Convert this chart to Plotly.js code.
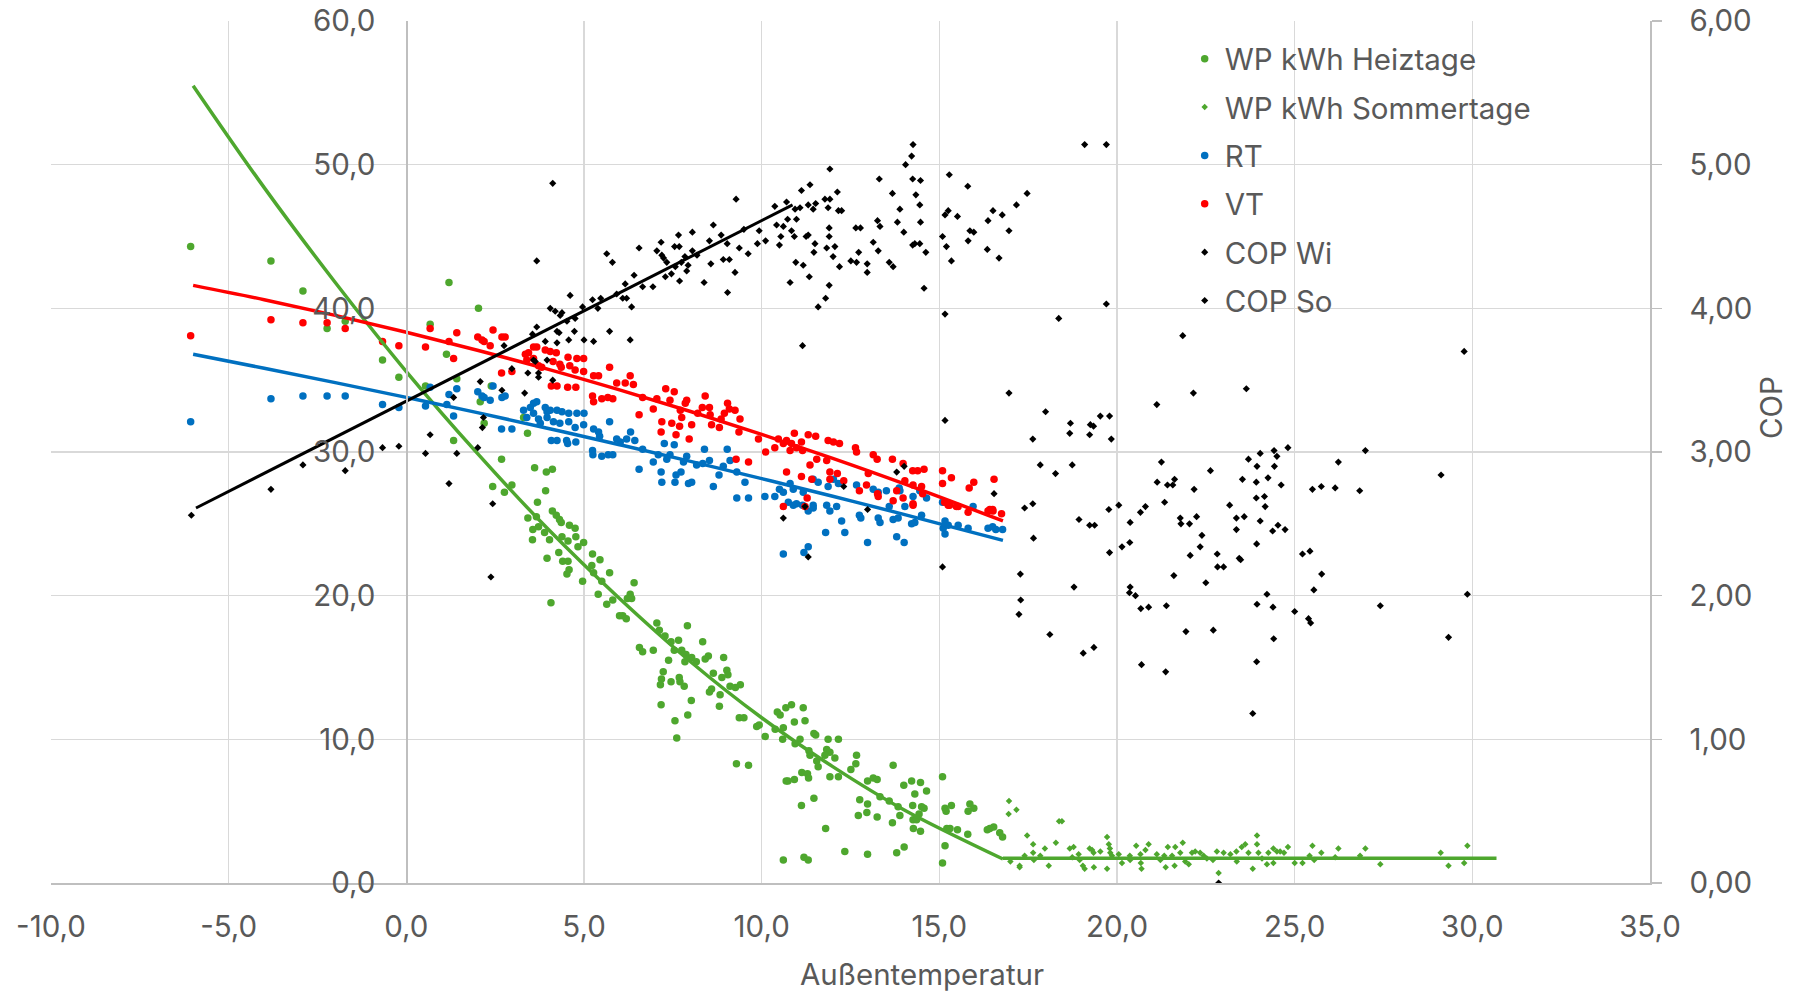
<!DOCTYPE html>
<html><head><meta charset="utf-8">
<script src="https://cdn.plot.ly/plotly-3.0.1.min.js"></script>
<style>html,body{margin:0;padding:0;background:#fff}#chart{width:1807px;height:995px}</style>
</head><body><div id="chart"></div>
<script>
// ---- Data ----
const heizX = [-6.07,-3.81,-2.91,-2.23,-1.72,-0.67,-0.21,0.67,1.20,1.13,0.54,1.42,2.03,2.08,2.19,2.39,1.33,3.41,3.30,2.68,2.43,2.76,2.97,3.61,3.94,4.11,3.92,3.69,4.11,
3.42,3.66,3.56,3.72,3.89,3.55,4.03,4.22,4.31,4.36,4.59,4.75,4.38,4.55,4.77,4.99,4.83,4.29,4.40,4.55,3.96,4.58,4.52,5.24,5.45,5.22,5.27,4.96,5.50,5.72,5.40,5.64,5.81,4.07,6.00,
6.41,6.30,6.22,6.34,6.09,6.19,7.05,7.12,7.28,7.91,7.45,7.66,7.54,7.75,6.56,6.65,6.95,8.34,8.50,8.41,7.87,8.03,8.16,7.84,7.38,8.93,7.23,7.18,7.15,7.45,7.68,7.70,7.82,8.64,9.02,9.05,8.88,9.11,9.40,9.26,8.53,8.59,8.83,8.02,7.17,8.81,7.92,7.56,7.61,
9.37,9.50,9.86,9.93,10.10,10.44,10.52,10.68,10.84,11.17,11.22,10.92,10.38,10.61,10.59,10.94,11.08,11.47,11.52,11.33,11.36,11.55,11.59,11.87,12.16,11.83,11.92,11.78,12.06,12.67,12.65,12.51,11.92,12.16,11.13,11.29,11.32,10.92,10.74,10.69,9.29,9.63,11.12,11.47,11.80,10.61,11.19,11.31,12.34,12.98,
13.70,12.98,13.14,13.25,13.33,12.76,12.98,13.59,12.72,12.96,13.25,13.68,13.84,14.00,14.22,14.47,14.64,14.31,14.25,14.50,14.57,14.43,13.89,14.26,14.36,14.27,14.47,13.80,14.01,15.09,15.16,15.19,15.34,15.86,15.97,15.81,15.21,15.30,15.51,15.80,15.16,15.09,16.35,16.42,16.53,16.70,16.78];
const heizY = [44.3,43.3,41.2,38.6,39.1,36.4,35.2,38.9,41.8,36.8,34.6,35.1,40.0,33.5,32.0,34.6,30.8,31.3,32.4,29.5,27.6,27.2,27.7,28.9,28.6,28.8,27.3,26.5,25.9,
25.4,25.5,24.6,24.8,24.4,23.9,23.9,25.6,25.3,25.1,24.9,24.7,24.1,23.8,24.1,23.7,23.4,23.0,22.4,22.4,22.6,21.8,21.5,22.9,22.5,22.1,21.6,21.0,21.0,21.6,20.1,19.4,19.7,19.5,18.6,
20.9,20.1,19.8,19.8,18.6,18.4,18.1,17.6,17.2,17.9,16.8,16.9,16.2,16.2,16.4,16.1,16.2,16.8,15.8,15.6,15.9,15.7,15.4,15.4,15.5,15.7,14.7,14.2,13.8,14.0,14.3,14.0,13.7,14.6,14.8,14.5,14.3,13.7,13.8,13.6,13.3,13.5,13.1,12.7,12.4,12.3,11.7,11.3,10.1,
11.5,11.5,10.9,11.0,10.2,11.9,11.7,12.2,12.4,12.2,11.3,11.2,10.7,10.8,10.0,9.7,10.0,10.4,10.3,9.2,8.9,8.5,8.1,10.0,10.0,9.3,9.1,8.9,8.7,8.9,8.3,7.9,7.4,7.4,7.7,7.6,7.3,7.2,7.1,7.1,8.3,8.2,5.4,5.9,3.8,1.6,1.8,1.6,2.2,2.0,
8.2,7.1,7.3,7.2,6.0,5.8,5.5,5.7,4.7,4.9,4.6,4.2,5.3,6.8,7.1,7.0,6.4,6.2,5.4,5.3,5.2,4.8,4.7,4.4,4.4,3.8,3.6,2.1,2.5,7.4,5.2,5.0,5.4,5.5,5.2,5.0,3.8,3.8,3.7,3.4,2.6,1.4,3.7,3.8,3.9,3.5,3.2];

const sommerX = [16.96,17.17,16.95,17.47,17.64,17.97,18.28,18.37,17.00,17.26,17.26,17.40,17.64,17.66,17.84,18.08,
18.45,18.67,18.78,18.74,18.92,18.95,19.04,19.09,19.23,19.30,19.34,19.35,19.53,19.72,19.77,19.80,19.81,19.72,19.86,20.05,20.14,20.36,20.37,20.54,20.66,20.67,20.69,20.80,20.89,21.12,21.22,21.33,21.37,21.43,21.55,21.62,21.64,21.78,21.85,21.92,22.02,22.11,22.20,22.34,22.44,22.53,22.70,22.81,22.86,23.00,23.19,23.36,23.37,23.51,23.61,23.70,23.82,23.94,23.94,23.98,24.08,24.22,24.26,24.40,24.40,24.50,24.59,24.70,24.81,25.00,25.22,25.42,25.50,25.55,25.75,26.14,26.23,26.84,26.99,27.41,29.11,29.33,29.77,29.86];
const sommerY = [5.7,5.1,4.8,3.3,2.7,2.4,2.8,4.3,1.5,1.2,1.1,1.9,2.1,1.6,1.9,1.2,
4.3,2.4,2.5,1.8,2.0,1.6,1.2,1.0,2.4,2.3,2.1,1.1,2.2,3.2,2.7,2.4,2.1,1.0,1.9,2.0,1.4,1.9,1.6,2.6,2.0,1.4,1.0,2.3,2.7,2.0,1.6,1.9,1.1,2.5,1.9,1.2,2.5,2.1,2.8,1.5,1.3,2.1,2.2,2.1,1.9,1.7,1.6,2.2,0.7,2.1,2.0,2.2,1.5,2.5,2.7,2.1,1.0,3.3,2.7,2.1,1.7,1.3,2.1,2.4,1.4,2.2,2.2,2.1,2.5,1.4,1.4,1.9,2.6,1.6,2.1,1.8,2.4,1.9,2.4,1.3,2.1,1.2,1.4,2.6];

const rtX = [-6.07,-3.81,-2.91,-2.23,-1.72,-0.67,-0.21,0.54,0.67,1.20,1.14,1.33,1.42,2.01,2.13,2.19,2.36,2.44,2.69,2.78,2.68,2.97,3.30,3.39,3.49,3.58,3.67,3.58,3.72,3.77,3.91,3.96,4.05,4.24,4.38,4.57,4.80,5.00,3.96,4.14,4.32,4.57,4.75,4.99,4.08,4.24,4.51,4.54,4.77,5.27,5.41,5.44,5.72,5.92,5.24,5.25,5.50,5.68,5.81,
6.02,6.20,6.31,6.43,6.55,6.65,6.95,7.09,7.17,7.19,7.26,7.33,7.42,7.54,7.56,7.59,7.73,7.80,7.89,7.94,8.03,8.17,8.34,8.39,8.53,8.64,8.80,8.92,9.03,9.11,9.30,9.53,9.30,9.63,10.09,10.37,10.50,10.61,10.80,10.89,11.17,11.45,11.59,11.87,12.02,12.16,12.67,13.14,13.28,13.51,13.89,13.87,14.26,14.45,14.64,15.09,15.95,10.98,11.45,11.83,12.11,13.59,14.03,
10.75,10.89,11.15,11.31,11.45,11.92,12.25,12.75,12.79,13.28,13.33,13.70,13.84,14.22,14.31,14.50,15.16,15.11,15.25,15.16,15.53,15.81,16.37,16.50,16.59,16.78,11.80,12.34,12.98,13.80,14.01,10.61,11.19,11.31];
const rtY = [32.1,33.7,33.9,33.9,33.9,33.3,33.1,33.2,34.5,34.0,33.3,32.5,34.4,34.2,33.9,33.8,33.6,34.6,33.8,33.9,31.6,31.6,32.9,32.4,33.1,33.4,33.5,32.7,32.3,32.0,33.1,32.8,32.9,32.9,32.8,32.7,32.7,32.7,32.4,32.1,32.0,32.1,31.7,31.9,30.8,30.8,30.8,30.6,30.7,31.6,31.4,31.1,32.1,30.9,30.1,29.8,29.7,29.8,29.8,
30.7,30.9,31.4,30.8,28.8,30.2,29.3,29.8,28.6,27.9,30.6,29.5,29.8,30.5,27.9,28.4,28.6,29.3,29.7,27.8,27.9,29.1,29.2,30.2,29.4,27.6,28.4,29.0,30.2,29.4,28.6,27.9,26.8,26.8,26.9,26.9,27.4,27.2,27.8,27.4,27.2,28.1,27.9,27.6,28.1,27.8,27.7,27.4,27.2,27.3,27.3,27.5,26.9,27.3,26.8,26.5,26.2,26.4,26.3,26.3,26.2,26.2,26.2,
26.5,26.3,26.3,25.9,26.1,25.9,25.2,25.6,25.4,25.4,25.1,25.3,25.4,25.0,25.1,25.6,25.2,24.7,24.9,24.3,24.9,24.7,24.7,24.8,24.6,24.6,24.4,24.4,23.7,24.1,23.7,22.9,23.0,23.4];

const vtX = [-6.07,-3.81,-2.91,-2.23,-1.72,-0.67,-0.21,0.67,0.54,1.20,1.42,1.33,2.01,2.13,2.19,2.36,2.44,2.69,2.78,2.68,2.97,3.35,3.44,3.58,3.67,3.39,3.58,3.91,4.05,4.22,3.72,3.81,4.13,4.32,4.36,4.55,4.60,4.80,4.99,4.75,4.99,4.08,4.24,4.54,4.77,5.27,5.41,5.72,5.92,5.24,5.27,5.50,5.67,5.81,
6.30,6.16,6.39,6.65,6.55,6.95,7.05,7.30,7.54,7.42,7.19,7.47,7.17,7.59,7.69,7.75,7.71,7.85,7.89,8.03,7.96,8.20,8.41,8.33,8.53,8.55,8.59,8.81,8.86,8.95,9.04,9.09,9.25,9.39,9.36,9.91,10.11,10.37,10.47,10.61,10.70,10.92,10.84,10.98,11.12,10.80,11.15,11.31,11.52,11.36,11.55,11.83,11.87,12.02,12.19,12.64,12.67,13.14,13.25,13.68,13.98,13.00,11.92,12.13,10.70,11.12,11.41,11.92,12.31,9.28,9.63,
14.25,14.39,14.57,15.09,15.34,15.09,15.84,15.97,16.54,12.95,13.26,13.28,13.80,14.03,14.26,14.50,14.53,11.28,10.61,12.75,13.70,13.98,14.26,15.15,15.29,15.53,16.42,16.51,11.22,14.26,15.25,15.48,15.81,16.37,16.75,16.50];
const vtY = [38.1,39.2,39.0,39.0,38.6,37.7,37.4,38.6,37.3,37.7,38.3,36.5,38.0,37.8,37.7,37.4,38.5,38.0,38.0,35.5,35.6,36.8,36.9,37.3,37.3,36.4,36.5,37.1,37.0,36.9,36.0,35.9,36.3,36.1,35.9,36.6,36.0,36.5,36.5,35.7,35.6,34.6,34.6,34.5,34.5,35.3,35.3,35.9,34.8,33.9,33.5,33.7,33.8,33.7,
35.3,34.8,34.7,33.8,32.6,33.0,33.7,34.4,34.2,33.6,32.1,32.0,31.4,31.2,31.8,32.4,32.9,33.4,33.6,31.9,30.9,32.7,33.9,33.1,33.1,32.6,31.9,31.7,32.3,32.7,33.4,33.0,32.9,32.3,31.4,30.9,30.0,30.3,30.9,30.6,30.8,31.3,30.6,30.3,30.7,30.1,30.1,31.2,31.1,29.1,29.5,29.4,30.8,30.7,30.6,30.3,30.0,29.8,29.5,29.5,29.2,28.5,28.6,28.5,28.6,28.3,28.1,28.1,28.0,29.5,29.3,
28.7,28.7,28.8,28.7,28.2,27.8,27.5,27.9,28.1,27.7,27.1,26.9,27.3,28.0,27.7,27.6,27.1,26.8,26.2,27.3,26.6,26.8,26.4,26.5,26.3,26.2,26.0,25.9,26.2,26.3,26.3,26.2,25.8,25.9,25.7,26.0];

const copWiX = [-6.05,-3.81,-2.91,-1.72,-0.67,-0.21,0.54,0.67,1.20,1.33,1.42,2.01,2.08,2.17,2.14,2.43,2.38,2.69,2.75,2.97,3.33,3.42,3.55,3.67,3.67,3.72,3.58,3.63,3.72,3.91,4.05,4.19,4.12,4.30,4.24,4.33,4.38,4.52,4.57,4.61,4.75,4.73,4.96,5.00,5.24,5.27,5.39,5.47,5.64,5.80,5.72,5.92,4.12,3.96,4.24,
6.16,6.09,6.20,6.34,6.30,6.41,6.55,6.65,6.94,7.05,7.17,7.19,7.24,7.29,7.33,7.46,7.55,7.57,7.66,7.68,7.69,7.74,7.84,7.89,7.93,8.05,8.05,8.18,8.38,8.53,8.57,8.64,8.86,8.92,9.03,9.09,9.04,9.25,9.28,9.37,9.50,9.62,9.88,9.93,10.11,10.37,10.42,10.50,10.54,10.61,10.70,10.73,10.80,10.84,10.92,10.96,10.98,10.94,11.08,11.12,11.17,11.15,11.25,11.31,11.31,11.34,11.36,11.45,11.47,11.50,11.52,11.59,11.80,11.78,11.83,11.87,11.90,11.90,11.92,11.92,11.90,12.01,12.06,12.13,12.19,12.16,12.25,12.51,12.65,12.67,12.73,12.78,12.97,12.97,13.14,13.26,13.31,13.28,13.33,13.59,13.68,13.70,13.82,13.89,14.00,14.05,14.22,14.26,14.25,14.25,14.31,14.34,14.47,14.45,14.47,14.45,14.57,14.62,15.09,15.16,15.25,15.20,15.28,15.34,15.16,15.51,15.80,15.81,15.86,15.97,16.35,16.37,16.51,16.68,16.77,15.16,13.80,14.01,12.31,16.54,10.61,11.22,11.31,12.98,15.09];
const copWiY = [2.56,2.74,2.91,2.87,3.03,3.04,2.99,3.12,2.78,3.38,2.99,3.03,3.49,3.24,3.17,2.64,2.13,3.43,3.74,3.58,3.41,3.55,3.82,3.87,4.33,3.55,3.64,3.63,3.52,3.77,4.00,3.98,4.87,3.83,3.76,3.95,3.97,3.91,3.78,4.09,3.93,3.84,4.01,3.78,4.06,3.77,4.00,4.07,4.38,4.32,3.84,4.10,3.50,3.64,3.84,
4.17,4.07,4.07,4.01,3.78,4.23,4.42,4.15,4.15,4.40,4.46,4.37,4.35,4.22,4.32,4.24,4.43,4.29,4.51,4.43,4.19,4.32,4.36,4.26,4.30,4.53,4.40,4.37,4.18,4.47,4.31,4.58,4.51,4.34,4.45,4.34,4.11,4.25,4.76,4.42,4.55,4.38,4.45,4.54,4.47,4.71,4.58,4.44,4.50,4.57,4.74,4.62,4.18,4.54,4.50,4.32,4.62,4.69,4.70,4.82,4.30,3.74,4.50,4.51,4.72,4.22,4.86,4.69,4.39,4.45,4.73,4.01,4.07,4.76,4.42,4.70,4.56,4.50,4.76,4.97,4.16,4.36,4.43,4.81,4.29,4.68,4.68,4.33,4.56,4.32,4.39,4.56,4.31,4.25,4.46,4.61,4.90,4.40,4.57,4.32,4.80,4.29,4.60,4.69,4.53,5.00,5.06,5.14,4.90,4.44,4.45,4.79,4.89,4.72,4.60,4.45,4.14,4.39,4.50,4.65,4.68,4.43,4.93,4.33,3.96,4.64,4.85,4.47,4.54,4.53,4.41,4.61,4.68,4.35,4.65,3.22,2.86,2.90,2.76,2.71,2.54,2.62,2.27,2.60,2.20];

const copSoX = [16.96,17.17,17.47,16.96,17.63,17.99,17.84,18.27,18.36,17.63,17.40,17.65,17.28,17.29,17.24,18.11,
19.09,19.70,19.70,21.85,29.77,23.64,22.15,21.12,19.53,19.79,18.69,18.67,19.25,19.34,19.23,19.84,18.74,21.25,21.13,21.42,21.57,21.62,22.17,22.63,21.34,20.80,20.05,19.77,23.17,23.53,23.70,23.94,24.03,24.42,24.50,24.43,24.81,24.25,23.92,24.62,23.92,24.15,24.17,25.50,25.75,26.14,26.23,26.83,26.99,29.12,
18.93,19.23,19.37,19.79,20.14,20.37,20.36,20.66,18.79,20.37,20.35,20.52,20.67,20.89,21.39,21.60,21.78,21.80,22.04,22.24,22.06,22.39,22.34,21.94,22.50,22.71,22.82,22.83,23.00,23.36,23.36,23.58,23.44,23.48,23.93,24.03,24.22,23.94,24.38,24.53,24.73,24.39,24.41,23.93,23.82,22.86,20.69,21.37,19.35,19.05,25.00,25.39,25.45,25.22,25.43,25.76,25.54,27.41,29.86,29.33];
const copSoY = [4.54,4.72,4.80,3.41,3.09,3.28,2.91,2.85,3.93,2.64,2.61,2.40,2.15,1.97,1.87,1.73,
5.14,5.14,4.03,3.81,3.70,3.44,3.41,3.33,3.25,3.25,3.20,3.13,3.19,3.18,3.12,3.09,2.91,2.93,2.79,2.77,2.77,2.81,2.74,2.87,2.65,2.62,2.63,2.60,2.63,2.81,2.95,2.90,2.99,3.01,2.97,2.90,3.03,2.82,2.79,2.77,2.68,2.69,2.62,2.74,2.76,2.75,2.93,2.73,3.01,2.84,
2.53,2.49,2.49,2.30,2.34,2.51,2.37,2.58,2.06,2.06,2.02,2.00,1.91,1.92,1.93,2.14,2.54,2.50,2.50,2.55,2.28,2.42,2.34,1.75,2.09,1.76,2.29,2.20,2.20,2.54,2.46,2.55,2.26,2.25,2.36,2.52,2.01,1.94,2.45,2.49,2.46,1.92,1.70,1.54,1.18,0.00,1.52,1.47,1.64,1.60,1.89,1.84,1.81,2.29,2.31,2.15,2.04,1.93,2.01,1.71];

// Trend lines
const trendHeizX = [-6,-4,-2,0,2,4,6,8,10,12,14,16.79];
const trendHeizY = [55.5,48.4,41.8,35.6,29.9,24.6,19.8,15.4,11.5,8.1,5.1,1.67];
const trendSomX = [16.79,30.68];
const trendSomY = [1.72,1.72];
const trendRtX = [-6,-4,-2,0,2,4,6,8,10,12,14,16.79];
const trendRtY = [36.8,35.83,34.83,33.8,32.74,31.64,30.51,29.35,28.15,26.92,25.66,23.85];
const trendVtX = [-6,-4,-2,0,2,4,6,8,10,12,14,16.79];
const trendVtY = [41.6,40.6,39.51,38.34,37.08,35.75,34.32,32.82,31.23,29.56,27.80,25.2];
const trendCopX = [-5.92,10.87];
const trendCopY = [2.61,4.72];

const xTickVals = [-10,-5,0,5,10,15,20,25,30,35];
const xTickText = ["-10,0","-5,0","0,0","5,0","10,0","15,0","20,0","25,0","30,0","35,0"];
const yTickVals = [0,10,20,30,40,50,60];
const yTickText = ["0,0","10,0","20,0","30,0","40,0","50,0","60,0"];
const y2TickVals = [0,1,2,3,4,5,6];
const y2TickText = ["0,00","1,00","2,00","3,00","4,00","5,00","6,00"];

const GREEN = '#4EA72E', BLUE = '#0070C0', RED = '#FF0000', BLACK = '#000000';
const FONT = 'Inter, "Liberation Sans", sans-serif';
const TXT = '#595959';
const FS = 29.5;

const traces = [
  {name:'WP kWh Heiztage', x:heizX, y:heizY, type:'scatter', mode:'markers', marker:{color:GREEN, size:7.5}, legendgroup:'a'},
  {name:'WP kWh Sommertage', x:sommerX, y:sommerY, type:'scatter', mode:'markers', marker:{color:GREEN, size:5, symbol:'diamond'}, legendgroup:'b'},
  {name:'RT', x:rtX, y:rtY, type:'scatter', mode:'markers', marker:{color:BLUE, size:7.5}, legendgroup:'c'},
  {name:'VT', x:vtX, y:vtY, type:'scatter', mode:'markers', marker:{color:RED, size:7.5}, legendgroup:'d'},
  {x:trendHeizX, y:trendHeizY, type:'scatter', mode:'lines', line:{color:GREEN, width:3.5, shape:'spline'}, showlegend:false, hoverinfo:'skip'},
  {x:trendSomX, y:trendSomY, type:'scatter', mode:'lines', line:{color:GREEN, width:3.5}, showlegend:false, hoverinfo:'skip'},
  {x:trendRtX, y:trendRtY, type:'scatter', mode:'lines', line:{color:BLUE, width:3.5, shape:'spline'}, showlegend:false, hoverinfo:'skip'},
  {x:trendVtX, y:trendVtY, type:'scatter', mode:'lines', line:{color:RED, width:3.5, shape:'spline'}, showlegend:false, hoverinfo:'skip'},
  {name:'COP Wi', x:copWiX, y:copWiY, yaxis:'y2', type:'scatter', mode:'markers', marker:{color:BLACK, size:5.5, symbol:'diamond'}, legendgroup:'e'},
  {name:'COP So', x:copSoX, y:copSoY, yaxis:'y2', type:'scatter', mode:'markers', marker:{color:BLACK, size:5.5, symbol:'diamond'}, legendgroup:'f'},
  {x:trendCopX, y:trendCopY, yaxis:'y2', type:'scatter', mode:'lines', line:{color:BLACK, width:3}, showlegend:false, hoverinfo:'skip'}
];

const layout = {
  width:1807, height:995,
  margin:{l:51, r:157, t:21, b:112},
  paper_bgcolor:'#fff', plot_bgcolor:'#fff',
  font:{family:FONT, size:FS, color:TXT},
  showlegend:true,
  legend:{x:0.709, y:0.986, xanchor:'left', yanchor:'top', bgcolor:'rgba(0,0,0,0)', font:{size:FS, color:TXT}, traceorder:'grouped', tracegroupgap:7},
  xaxis:{range:[-10,35], tickvals:xTickVals, ticktext:xTickText, showgrid:true, gridcolor:'#D9D9D9', gridwidth:1.3,
         zeroline:false, showline:true, linecolor:'#BFBFBF', linewidth:1.5, ticks:'', ticklabelstandoff:17,
         tickfont:{size:FS, color:TXT}},
  yaxis:{range:[0,60], tickvals:yTickVals, ticktext:yTickText, anchor:'free', position:10/45, side:'left',
         showgrid:true, gridcolor:'#D9D9D9', gridwidth:1.3, zeroline:false, showline:true, linecolor:'#BFBFBF', linewidth:1.5,
         ticks:'', ticklabelstandoff:25, tickfont:{size:FS, color:TXT}},
  yaxis2:{range:[0,6], tickvals:y2TickVals, ticktext:y2TickText, overlaying:'y', side:'right', anchor:'x',
          showgrid:false, zeroline:false, showline:true, linecolor:'#BFBFBF', linewidth:1.5,
          ticks:'outside', ticklen:10, tickcolor:'#BFBFBF', tickwidth:1.3, ticklabelstandoff:22, tickfont:{size:FS, color:TXT}},
  annotations:[
    {text:'Außentemperatur', xref:'paper', yref:'paper', x:(922-51)/1599, y:-(974-883)/862, xanchor:'center', yanchor:'middle', showarrow:false, font:{size:FS, color:TXT}},
    {text:'COP', xref:'paper', yref:'paper', x:(1771-51)/1599, y:1-(408-21)/862, xanchor:'center', yanchor:'middle', textangle:-90, showarrow:false, font:{size:FS, color:TXT}}
  ]
};

Plotly.newPlot('chart', traces, layout, {staticPlot:true});
</script>
</body></html>
